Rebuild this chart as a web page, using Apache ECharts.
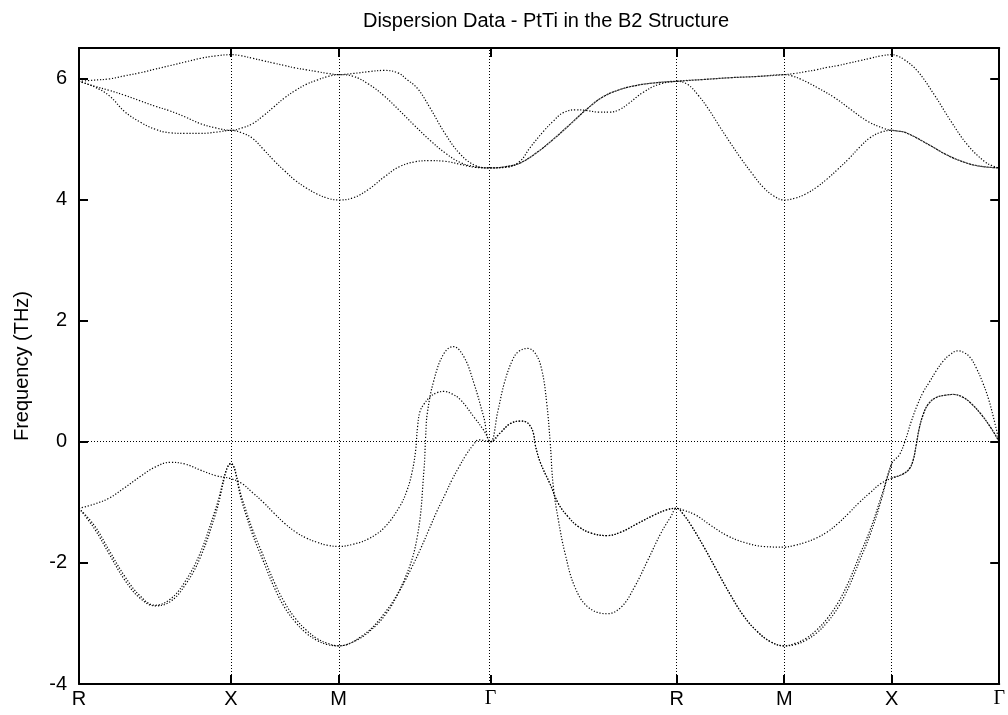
<!DOCTYPE html>
<html>
<head>
<meta charset="utf-8" />
<title>Dispersion Data - PtTi in the B2 Structure</title>
<script src="https://cdn.jsdelivr.net/npm/echarts@6.0.0/dist/echarts.min.js"></script>
<style>
  html, body { margin: 0; padding: 0; background: #fff; }
  #chart { width: 1008px; height: 715px; }
</style>
</head>
<body>
<div id="chart"></div>
<script>
// high symmetry points and their distance along the path
var pointLabels = ["R", "X", "M", "Γ", "R", "M", "X", "Γ"];
var pointDist = [0, 0.7071, 1.2071, 1.9142, 2.7802, 3.2802, 3.7802, 4.2802];
var freqTicks = [-4, -2, 0, 2, 4, 6];

// branches as [path position, frequency THz]
// path position = segment index + fraction of that segment (0 = R, 1 = X, 2 = M, ...)
var band6 = [
  [0,5.95],[0.1,5.97],[0.2,5.99],[0.3,6.04],[0.4,6.09],[0.5,6.15],[0.6,6.21],[0.7,6.27],[0.8,6.33],[0.9,6.37],[1,6.39],
  [1.1,6.37],[1.2,6.33],[1.3,6.29],[1.4,6.25],[1.5,6.21],[1.6,6.17],[1.7,6.14],[1.8,6.11],[1.9,6.08],[2,6.06],
  [2.1,6.08],[2.2,6.11],[2.3,6.13],[2.39,6.09],[2.45,5.98],[2.52,5.83],[2.6,5.52],[2.7,5.09],[2.8,4.75],[2.9,4.56],[3,4.52],
  [3.087,4.53],[3.158,4.63],[3.211,4.85],[3.283,5.12],[3.336,5.29],[3.389,5.43],[3.46,5.48],[3.513,5.47],[3.584,5.44],[3.638,5.44],[3.691,5.48],[3.744,5.59],[3.816,5.76],[3.904,5.90],[4,5.95],
  [4.25,5.98],[4.5,6.01],[4.75,6.03],[5,6.06],
  [5.1,6.08],[5.2,6.11],[5.3,6.14],[5.4,6.18],[5.5,6.21],[5.6,6.25],[5.7,6.29],[5.8,6.33],[5.9,6.37],[6,6.39],
  [6.05,6.37],[6.116,6.31],[6.24,6.12],[6.395,5.73],[6.551,5.29],[6.705,4.90],[6.86,4.63],[6.93,4.56],[7,4.52]
];
var band5 = [
  [0,5.95],[0.1,5.87],[0.2,5.80],[0.3,5.72],[0.4,5.63],[0.5,5.54],[0.6,5.46],[0.7,5.36],[0.8,5.25],[0.9,5.18],[1,5.14],
  [1.1,5.18],[1.2,5.25],[1.3,5.38],[1.4,5.53],[1.5,5.68],[1.6,5.80],[1.7,5.90],[1.8,5.97],[1.9,6.03],[2,6.06],
  [2.1,6.03],[2.2,5.90],[2.3,5.71],[2.4,5.47],[2.5,5.22],[2.6,4.98],[2.7,4.77],[2.8,4.61],[2.9,4.54],[3,4.52],
  [3.08,4.54],[3.158,4.60],[3.247,4.77],[3.336,4.99],[3.424,5.23],[3.513,5.48],[3.602,5.69],[3.691,5.81],[3.78,5.88],[3.869,5.92],[4,5.95],
  [4.25,5.98],[4.5,6.01],[4.75,6.03],[5,6.06],
  [5.07,6.04],[5.161,5.98],[5.314,5.84],[5.469,5.68],[5.623,5.48],[5.776,5.29],[5.931,5.17],[6,5.14],
  [6.05,5.13],[6.135,5.10],[6.349,4.90],[6.507,4.74],[6.665,4.62],[6.814,4.55],[7,4.52]
];
var band4 = [
  [0,5.95],[0.1,5.86],[0.2,5.71],[0.3,5.45],[0.4,5.28],[0.5,5.16],[0.6,5.10],[0.7,5.09],[0.8,5.09],[0.9,5.11],[1,5.14],
  [1.1,5.10],[1.2,5.01],[1.3,4.83],[1.4,4.64],[1.5,4.47],[1.6,4.31],[1.7,4.19],[1.8,4.09],[1.9,4.02],[2,3.99],
  [2.1,4.03],[2.2,4.17],[2.3,4.37],[2.4,4.54],[2.5,4.62],[2.6,4.64],[2.7,4.63],[2.8,4.58],[2.9,4.53],[3,4.52],
  [3.08,4.54],[3.158,4.60],[3.247,4.77],[3.336,4.99],[3.424,5.23],[3.513,5.48],[3.602,5.69],[3.691,5.81],[3.78,5.88],[3.869,5.92],[4,5.95],
  [4.1,5.90],[4.2,5.72],[4.3,5.48],[4.4,5.20],[4.5,4.93],[4.6,4.67],[4.7,4.43],[4.8,4.21],[4.9,4.06],[5,3.99],
  [5.1,4.02],[5.2,4.09],[5.3,4.20],[5.4,4.34],[5.5,4.50],[5.6,4.67],[5.7,4.86],[5.8,5.02],[5.9,5.11],[6,5.14],
  [6.05,5.13],[6.135,5.10],[6.349,4.90],[6.507,4.74],[6.665,4.62],[6.814,4.55],[7,4.52]
];
var band3 = [
  [0,-1.10],[0.1,-1.03],[0.2,-0.93],[0.3,-0.76],[0.4,-0.58],[0.5,-0.42],[0.6,-0.34],[0.7,-0.37],[0.8,-0.47],[0.9,-0.56],[1,-0.61],
  [1.1,-0.69],[1.2,-0.84],[1.3,-1.00],[1.4,-1.18],[1.5,-1.35],[1.6,-1.49],[1.7,-1.59],[1.8,-1.66],[1.9,-1.71],[2,-1.73],
  [2.1,-1.69],[2.2,-1.60],[2.3,-1.42],[2.4,-1.08],[2.451,-0.80],[2.484,-0.50],[2.507,-0.15],[2.52,0.25],[2.536,0.50],[2.562,0.62],[2.602,0.74],[2.648,0.81],[2.694,0.83],[2.746,0.79],[2.803,0.69],[2.89,0.41],[2.955,0.19],[3,0],
  [3.039,0.50],[3.075,0.98],[3.118,1.35],[3.151,1.49],[3.2,1.54],[3.24,1.46],[3.275,1.19],[3.302,0.63],[3.32,0],[3.337,-0.74],[3.364,-1.29],[3.4,-1.84],[3.453,-2.40],[3.524,-2.73],[3.625,-2.84],[3.702,-2.73],[3.773,-2.40],[3.844,-1.96],[3.915,-1.51],[3.968,-1.24],[4,-1.10],
  [4.062,-1.13],[4.176,-1.21],[4.315,-1.38],[4.469,-1.55],[4.624,-1.66],[4.809,-1.73],[5,-1.74],
  [5.1,-1.71],[5.2,-1.66],[5.3,-1.59],[5.4,-1.49],[5.5,-1.35],[5.6,-1.18],[5.7,-1.00],[5.8,-0.84],[5.9,-0.69],[6,-0.60],
  [6.098,-0.54],[6.163,-0.45],[6.2,-0.30],[6.228,-0.05],[6.256,0.22],[6.293,0.45],[6.34,0.62],[6.414,0.73],[6.507,0.77],[6.572,0.78],[6.656,0.74],[6.74,0.63],[6.833,0.45],[6.926,0.22],[7,0]
];
// band 2 changes level at the second X, so it is kept in two pieces
var band2 = [
  [0,-1.10],[0.1,-1.38],[0.2,-1.80],[0.3,-2.22],[0.4,-2.54],[0.5,-2.70],[0.6,-2.60],[0.7,-2.30],[0.8,-1.82],[0.9,-1.10],[1,-0.36],
  [1.1,-0.92],[1.2,-1.45],[1.3,-1.88],[1.4,-2.31],[1.5,-2.66],[1.6,-2.92],[1.7,-3.11],[1.8,-3.25],[1.9,-3.33],[2,-3.37],
  [2.147,-3.22],[2.3,-2.84],[2.431,-2.29],[2.518,-1.57],[2.562,-0.47],[2.573,0.08],[2.584,0.47],[2.628,1.02],[2.694,1.46],[2.755,1.57],[2.825,1.40],[2.89,0.97],[2.955,0.41],[3,0],
  [3.053,0.15],[3.107,0.30],[3.16,0.34],[3.188,0.33],[3.213,0.26],[3.231,0.13],[3.24,-0.05],[3.267,-0.34],[3.32,-0.70],[3.364,-1.02],[3.417,-1.24],[3.471,-1.40],[3.542,-1.51],[3.625,-1.55],[3.702,-1.49],[3.79,-1.35],[3.879,-1.21],[3.95,-1.12],[4,-1.10],
  [4.062,-1.20],[4.13,-1.37],[4.254,-1.74],[4.377,-2.14],[4.5,-2.53],[4.624,-2.88],[4.747,-3.13],[4.87,-3.30],[5,-3.37],
  [5.1,-3.33],[5.2,-3.25],[5.3,-3.11],[5.4,-2.92],[5.5,-2.66],[5.6,-2.31],[5.7,-1.88],[5.8,-1.45],[5.9,-0.92],[6,-0.36]
];
var band2End = [
  [6,-0.60],[6.098,-0.54],[6.163,-0.45],[6.2,-0.30],[6.228,-0.05],[6.256,0.22],[6.293,0.45],[6.34,0.62],[6.414,0.73],[6.507,0.77],[6.572,0.78],[6.656,0.74],[6.74,0.63],[6.833,0.45],[6.926,0.22],[7,0]
];
var band1 = [
  [0,-1.10],[0.1,-1.43],[0.2,-1.86],[0.3,-2.28],[0.4,-2.58],[0.5,-2.71],[0.6,-2.64],[0.7,-2.36],[0.8,-1.90],[0.9,-1.18],[1,-0.36],
  [1.1,-0.98],[1.2,-1.53],[1.3,-1.97],[1.4,-2.40],[1.5,-2.74],[1.6,-2.98],[1.7,-3.16],[1.8,-3.28],[1.9,-3.35],[2,-3.37],
  [2.1,-3.30],[2.2,-3.14],[2.313,-2.84],[2.4,-2.47],[2.477,-2.10],[2.543,-1.75],[2.595,-1.45],[2.647,-1.15],[2.705,-0.85],[2.746,-0.63],[2.792,-0.42],[2.838,-0.22],[2.884,-0.06],[2.923,0.03],[3,0],
  [3.053,0.15],[3.107,0.30],[3.16,0.34],[3.188,0.33],[3.213,0.26],[3.231,0.13],[3.24,-0.05],[3.267,-0.34],[3.32,-0.70],[3.364,-1.02],[3.417,-1.24],[3.471,-1.40],[3.542,-1.51],[3.625,-1.55],[3.702,-1.49],[3.79,-1.35],[3.879,-1.21],[3.95,-1.12],[4,-1.10],
  [4.062,-1.20],[4.13,-1.37],[4.254,-1.74],[4.377,-2.14],[4.5,-2.53],[4.624,-2.88],[4.747,-3.13],[4.87,-3.30],[5,-3.37],
  [5.1,-3.35],[5.2,-3.28],[5.3,-3.16],[5.4,-2.98],[5.5,-2.74],[5.6,-2.40],[5.7,-1.97],[5.8,-1.53],[5.9,-0.98],[6,-0.36],
  [6.07,-0.22],[6.126,0.02],[6.181,0.33],[6.237,0.60],[6.293,0.82],[6.349,0.98],[6.414,1.17],[6.479,1.33],[6.544,1.44],[6.616,1.50],[6.674,1.47],[6.73,1.39],[6.786,1.22],[6.848,0.97],[6.898,0.72],[6.944,0.42],[7,0]
];

var bands = [band1, band2, band2End, band3, band4, band5, band6];

// segment index + fraction -> distance along the path
function toDist(t) {
  var s = Math.min(Math.floor(t), pointDist.length - 2);
  return pointDist[s] + (t - s) * (pointDist[s + 1] - pointDist[s]);
}

function pointName(v) {
  for (var i = 0; i < pointDist.length; i++) {
    if (Math.abs(pointDist[i] - v) < 1e-3) {
      return pointLabels[i] === "Γ" ? "{g|Γ}" : pointLabels[i];
    }
  }
  return "";
}

var font = "Liberation Sans, Arial, Helvetica, sans-serif";
var dotted = { color: "#000", width: 1, type: [1, 2] };
var frame = { show: true, onZero: false, lineStyle: { color: "#000", width: 2 } };
var tickStyle = { color: "#000", width: 2 };

var chart = echarts.init(document.getElementById("chart"));

var series = bands.map(function (b) {
  return {
    type: "line",
    data: b.map(function (p) { return [toDist(p[0]), p[1]]; }),
    showSymbol: false,
    smooth: 0.4,
    silent: true,
    lineStyle: { color: "#000", width: 1.2, type: [1.2, 1.8] }
  };
});

// grid lines at the symmetry points and the zero line
series[0].markLine = {
  silent: true,
  symbol: ["none", "none"],
  label: { show: false },
  lineStyle: dotted,
  data: pointDist.slice(1, -1).map(function (k) { return { xAxis: k }; }).concat([{ yAxis: 0 }])
};

var option = {
  animation: false,
  backgroundColor: "#fff",
  title: {
    text: "Dispersion Data - PtTi in the B2 Structure",
    left: 541,
    textAlign: "center",
    top: 6,
    textStyle: { fontSize: 20, fontWeight: "normal", color: "#000", fontFamily: font }
  },
  grid: { left: 79, right: 5, top: 48, bottom: 31, containLabel: false },
  xAxis: [
    {
      type: "value", min: 0, max: pointDist[pointDist.length - 1], position: "bottom",
      axisLine: frame,
      axisTick: { inside: true, length: 9, customValues: pointDist, lineStyle: tickStyle },
      axisLabel: {
        customValues: pointDist, formatter: pointName, margin: 5,
        fontSize: 20, color: "#000", fontFamily: font,
        rich: { g: { fontSize: 20, fontFamily: "Liberation Serif, DejaVu Serif, serif", color: "#000" } }
      },
      splitLine: { show: false }
    },
    {
      type: "value", min: 0, max: pointDist[pointDist.length - 1], position: "top",
      axisLine: frame,
      axisTick: { inside: true, length: 9, customValues: pointDist, lineStyle: tickStyle },
      axisLabel: { show: false },
      splitLine: { show: false }
    }
  ],
  yAxis: [
    {
      type: "value", min: -4, max: 6.5, position: "left",
      name: "Frequency (THz)", nameLocation: "middle", nameGap: 47, nameRotate: 90,
      nameTextStyle: { fontSize: 20, color: "#000", fontFamily: font },
      axisLine: frame,
      axisTick: { inside: true, length: 9, customValues: freqTicks, lineStyle: tickStyle },
      axisLabel: { customValues: freqTicks, margin: 12, fontSize: 20, color: "#000", fontFamily: font },
      splitLine: { show: false }
    },
    {
      type: "value", min: -4, max: 6.5, position: "right",
      axisLine: frame,
      axisTick: { inside: true, length: 9, customValues: freqTicks, lineStyle: tickStyle },
      axisLabel: { show: false },
      splitLine: { show: false }
    }
  ],
  series: series
};

chart.setOption(option);
</script>
</body>
</html>
